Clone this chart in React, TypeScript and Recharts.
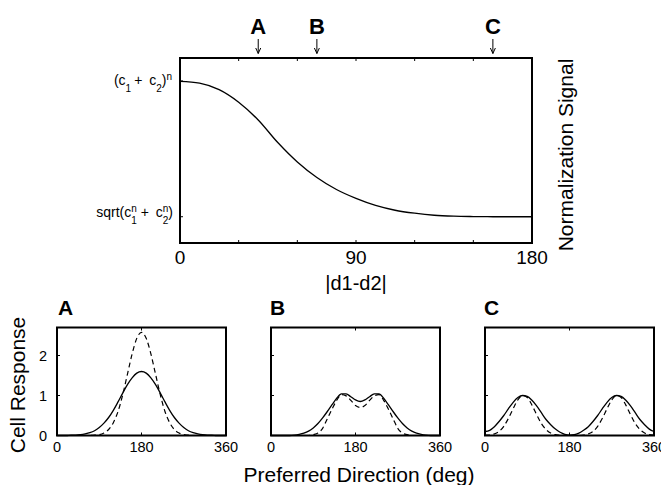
import React from 'react';
import { LineChart, Line, XAxis, YAxis, ReferenceArea, ReferenceDot } from 'recharts';

// top panel: normalization signal against |d1-d2|
const diffDeg = [0, 10, 20, 30, 40, 50, 60, 70, 80, 90, 100, 110, 120, 130, 140, 150, 160, 170, 180];
const normSignal = [0.874, 0.864, 0.829, 0.761, 0.665, 0.543, 0.438, 0.354, 0.289, 0.241, 0.203, 0.177, 0.161, 0.15, 0.145, 0.143, 0.142, 0.142, 0.142];
const diffTicks = [0, 30, 60, 90, 120, 150, 180];
const diffTickLabels: Record<number, string> = { 0: '0', 90: '90', 180: '180' };
const normHigh = 0.876; // (c1 + c2)^n
const normLow = 0.142; // sqrt(c1^n + c2^n)
const markers = [
    { name: 'A', diff: 40 },
    { name: 'B', diff: 70 },
    { name: 'C', diff: 160 },
];

// bottom panels: cell response against preferred direction
const prefDir = [0, 10, 20, 30, 40, 50, 60, 70, 80, 90, 100, 110, 120, 130, 140, 150, 160, 170, 180, 190, 200, 210, 220, 230, 240, 250, 260, 270, 280, 290, 300, 310, 320, 330, 340, 350, 360];
const dirTicks = [0, 180, 360];
const respTicks = [0, 1, 2];

const respASolid = [0, 0, 0, 0.01, 0.01, 0.02, 0.04, 0.07, 0.12, 0.2, 0.31, 0.45, 0.63, 0.84, 1.06, 1.27, 1.44, 1.56, 1.6, 1.56, 1.44, 1.27, 1.06, 0.84, 0.63, 0.45, 0.31, 0.2, 0.12, 0.07, 0.04, 0.02, 0.01, 0.01, 0, 0, 0];
const respADashed = [0, 0, 0, 0, 0, 0, 0, 0, 0.01, 0.02, 0.06, 0.15, 0.32, 0.6, 1.02, 1.53, 2.04, 2.43, 2.58, 2.43, 2.04, 1.53, 1.02, 0.6, 0.32, 0.15, 0.06, 0.02, 0.01, 0, 0, 0, 0, 0, 0, 0, 0];
const respBSolid = [0, 0, 0, 0, 0, 0.01, 0.03, 0.06, 0.11, 0.19, 0.3, 0.44, 0.6, 0.77, 0.93, 1.04, 1.04, 0.97, 0.89, 0.85, 0.89, 0.97, 1.04, 1.04, 0.93, 0.77, 0.6, 0.44, 0.3, 0.19, 0.11, 0.06, 0.03, 0.01, 0, 0, 0];
const respBDashed = [0, 0, 0, 0, 0, 0, 0, 0, 0, 0.02, 0.06, 0.18, 0.42, 0.66, 0.88, 1.02, 0.99, 0.88, 0.75, 0.7, 0.75, 0.88, 0.99, 1.02, 0.88, 0.66, 0.42, 0.18, 0.06, 0.02, 0, 0, 0, 0, 0, 0, 0];
const respCSolid = [0.1, 0.13, 0.22, 0.35, 0.5, 0.67, 0.83, 0.95, 1.0, 0.98, 0.88, 0.74, 0.57, 0.4, 0.27, 0.16, 0.08, 0.03, 0.01, 0.02, 0.06, 0.13, 0.22, 0.35, 0.5, 0.67, 0.83, 0.95, 1.0, 0.98, 0.88, 0.74, 0.57, 0.4, 0.27, 0.16, 0.1];
const respCDashed = [0.01, 0.01, 0.04, 0.1, 0.23, 0.43, 0.67, 0.89, 1.0, 0.95, 0.76, 0.52, 0.3, 0.15, 0.06, 0.02, 0.01, 0, 0, 0, 0, 0.01, 0.04, 0.1, 0.23, 0.43, 0.67, 0.89, 1.0, 0.95, 0.76, 0.52, 0.3, 0.15, 0.06, 0.02, 0.01];

const FONT = '"Liberation Sans", Arial, Helvetica, sans-serif';
const MAIN = 14;
const SUB = 10;

// inward tick on a horizontal edge, optional label below
const HTick = (p: any) => {
    const { x, y, payload, dir, len, labels, fontSize, dy } = p;
    const label = labels ? labels[payload.value] : undefined;
    return (
        <g>
            <line x1={x} x2={x} y1={y} y2={y + dir * len} stroke="#000" strokeWidth={1} />
            {label !== undefined && (
                <text x={x} y={y + dy} textAnchor="middle" fontSize={fontSize} fill="#000">{label}</text>
            )}
        </g>
    );
};

// inward tick on a vertical edge
const VTick = (p: any) => {
    const { x, y, dir, len, children } = p;
    return (
        <g>
            <line x1={x} x2={x + dir * len} y1={y} y2={y} stroke="#000" strokeWidth={1} />
            {children}
        </g>
    );
};

const NormLabel = ({ x, y, value }: any) => {
    if (Math.abs(value - normHigh) < 1e-6) {
        return (
            <text x={x - 8} y={y + 4.3} textAnchor="end" fontSize={MAIN} fill="#000">
                <tspan>(c</tspan>
                <tspan fontSize={SUB} dy={6.4}>1</tspan>
                <tspan dx={3} dy={-6.4}>+</tspan>
                <tspan dx={3}> c</tspan>
                <tspan fontSize={SUB} dy={6.4}>2</tspan>
                <tspan dy={-6.4}>)</tspan>
                <tspan fontSize={SUB} dy={-5.3}>n</tspan>
            </text>
        );
    }
    return (
        <text x={x - 7} y={y + 0.6} textAnchor="end" fontSize={MAIN} fill="#000">
            <tspan>sqrt(c</tspan>
            <tspan fontSize={SUB} dy={-5.6}>n</tspan>
            <tspan fontSize={SUB} dx={-5.6} dy={12.3}>1</tspan>
            <tspan dx={4} dy={-6.7}>+</tspan>
            <tspan dx={3}> c</tspan>
            <tspan fontSize={SUB} dy={-5.6}>n</tspan>
            <tspan fontSize={SUB} dx={-5.6} dy={12.3}>2</tspan>
            <tspan dy={-6.7}>)</tspan>
        </text>
    );
};

const Marker = ({ cx, cy, name }: any) => (
    <g>
        <text x={cx} y={cy - 24} textAnchor="middle" fontSize={22} fontWeight="bold" fill="#000">{name}</text>
        <line x1={cx} x2={cx} y1={cy - 19} y2={cy - 4.5} stroke="#000" strokeWidth={1} />
        <path d={`M${cx - 2.5},${cy - 10} L${cx},${cy - 4.5} L${cx + 2.5},${cy - 10}`} fill="none" stroke="#000" strokeWidth={1} />
    </g>
);

function NormalizationChart() {
    const data = diffDeg.map((d, i) => ({ diff: d, norm: normSignal[i] }));
    return (
        <div style={{ position: 'absolute', left: 0, top: 0 }}>
            <LineChart width={661} height={300} data={data} margin={{ top: 57, right: 128, bottom: 56, left: 179 }}>
                <XAxis dataKey="diff" type="number" domain={[0, 180]} ticks={diffTicks} interval={0}
                    axisLine={false} tickLine={false} tickSize={0} tickMargin={0} height={1}
                    tick={(p: any) => <HTick {...p} dir={-1} len={3} labels={diffTickLabels} fontSize={19} dy={21} />} />
                <XAxis xAxisId="top" orientation="top" dataKey="diff" type="number" domain={[0, 180]} ticks={diffTicks} interval={0}
                    axisLine={false} tickLine={false} tickSize={0} tickMargin={0} height={1}
                    tick={(p: any) => <HTick {...p} dir={1} len={3} />} />
                <YAxis type="number" domain={[0, 1]} ticks={[normLow, normHigh]} interval={0}
                    axisLine={false} tickLine={false} tickSize={0} tickMargin={0} width={1}
                    tick={(p: any) => (
                        <VTick {...p} dir={1} len={3}>
                            <NormLabel x={p.x} y={p.y} value={p.payload.value} />
                        </VTick>
                    )} />
                <YAxis yAxisId="right" orientation="right" type="number" domain={[0, 1]} ticks={[normLow, normHigh]} interval={0}
                    axisLine={false} tickLine={false} tickSize={0} tickMargin={0} width={1}
                    tick={(p: any) => <VTick {...p} dir={-1} len={3} />} />
                <ReferenceArea x1={0} x2={180} y1={0} y2={1} fill="none" stroke="#000" strokeWidth={2} ifOverflow="visible" />
                <Line dataKey="norm" type="monotone" stroke="#000" strokeWidth={1.3} dot={false} activeDot={false} isAnimationActive={false} />
                {markers.map((m) => (
                    <ReferenceDot key={m.name} x={m.diff} y={1} r={0} ifOverflow="visible"
                        shape={(p: any) => <Marker cx={p.cx} cy={p.cy} name={m.name} />} />
                ))}
            </LineChart>
        </div>
    );
}

function TuningPanel({ plotLeft, solid, dashed, yLabels }: { plotLeft: number; solid: number[]; dashed: number[]; yLabels?: boolean }) {
    const data = prefDir.map((d, i) => ({ dir: d, solid: solid[i], dashed: dashed[i] }));
    return (
        <div style={{ position: 'absolute', left: plotLeft - 60, top: 290 }}>
            <LineChart width={260} height={200} data={data} margin={{ top: 36.5, right: 30, bottom: 53.5, left: 59 }}>
                <XAxis dataKey="dir" type="number" domain={[0, 360]} ticks={dirTicks} interval={0}
                    axisLine={false} tickLine={false} tickSize={0} tickMargin={0} height={1}
                    tick={(p: any) => <HTick {...p} dir={-1} len={3} labels={{ 0: '0', 180: '180', 360: '360' }} fontSize={14.5} dy={16} />} />
                <XAxis xAxisId="top" orientation="top" dataKey="dir" type="number" domain={[0, 360]} ticks={[180]} interval={0}
                    axisLine={false} tickLine={false} tickSize={0} tickMargin={0} height={1}
                    tick={(p: any) => <HTick {...p} dir={1} len={3} />} />
                <YAxis type="number" domain={[0, 2.7]} ticks={respTicks} interval={0}
                    axisLine={false} tickLine={false} tickSize={0} tickMargin={0} width={1}
                    tick={(p: any) => (
                        <VTick {...p} dir={1} len={3}>
                            {yLabels && (
                                <text x={p.x - 10} y={p.y + 5} textAnchor="end" fontSize={14.5} fill="#000">{p.payload.value}</text>
                            )}
                        </VTick>
                    )} />
                <YAxis yAxisId="right" orientation="right" type="number" domain={[0, 2.7]} ticks={respTicks} interval={0}
                    axisLine={false} tickLine={false} tickSize={0} tickMargin={0} width={1}
                    tick={(p: any) => <VTick {...p} dir={-1} len={3} />} />
                <ReferenceArea x1={0} x2={360} y1={0} y2={2.7} fill="none" stroke="#000" strokeWidth={2} ifOverflow="visible" />
                <Line dataKey="dashed" type="monotone" stroke="#000" strokeWidth={1.2} strokeDasharray="5 3.5" dot={false} activeDot={false} isAnimationActive={false} />
                <Line dataKey="solid" type="monotone" stroke="#000" strokeWidth={1.3} dot={false} activeDot={false} isAnimationActive={false} />
            </LineChart>
        </div>
    );
}

export default function App() {
    return (
        <div style={{ position: 'fixed', left: 0, top: 0, width: 661, height: 485, overflow: 'hidden', background: '#fff', fontFamily: FONT }}>
            <NormalizationChart />
            <TuningPanel plotLeft={57} solid={respASolid} dashed={respADashed} yLabels />
            <TuningPanel plotLeft={271} solid={respBSolid} dashed={respBDashed} />
            <TuningPanel plotLeft={485} solid={respCSolid} dashed={respCDashed} />
            <svg width={661} height={485} style={{ position: 'absolute', left: 0, top: 0, pointerEvents: 'none' }}>
                <text x={356} y={290} textAnchor="middle" fontSize={20} fill="#000">|d1-d2|</text>
                <text x={573} y={155} textAnchor="middle" fontSize={21} fill="#000" transform="rotate(-90 573 155)">Normalization Signal</text>
                <text x={25} y={385} textAnchor="middle" fontSize={21} fill="#000" transform="rotate(-90 25 385)">Cell Response</text>
                <text x={359} y={481.5} textAnchor="middle" fontSize={21} fill="#000">Preferred Direction (deg)</text>
                <text x={58} y={315} fontSize={21} fontWeight="bold" fill="#000">A</text>
                <text x={270} y={315} fontSize={21} fontWeight="bold" fill="#000">B</text>
                <text x={484} y={315} fontSize={21} fontWeight="bold" fill="#000">C</text>
            </svg>
        </div>
    );
}
